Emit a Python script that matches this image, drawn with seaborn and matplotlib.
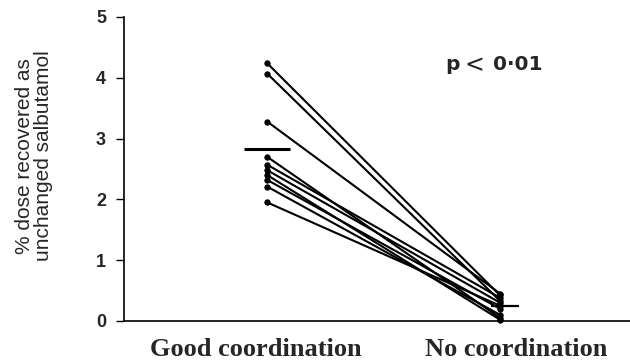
import matplotlib
matplotlib.use("Agg")
import matplotlib.pyplot as plt
import seaborn as sns
import pandas as pd
import numpy as np

categories = ["Good coordination", "No coordination"]
good = [4.24, 4.07, 3.28, 2.70, 2.57, 2.48, 2.40, 2.32, 2.21, 1.95]
none = [0.42, 0.33, 0.45, 0.05, 0.38, 0.30, 0.02, 0.20, 0.10, 0.25]
yticks = [0, 1, 2, 3, 4, 5]

sns.set_theme(style="ticks")
plt.rcParams['font.family'] = ['Liberation Sans', 'DejaVu Sans']

rows = []
for i, (g, n) in enumerate(zip(good, none)):
    rows.append({"subject": i, "group": categories[0], "value": g})
    rows.append({"subject": i, "group": categories[1], "value": n})
df = pd.DataFrame(rows)

fig = plt.figure(figsize=(6.3, 3.61), dpi=100)
ax = fig.add_axes([0.197, 0.111, 0.803, 0.842])

sns.lineplot(data=df, x="group", y="value", units="subject", estimator=None,
             color="black", linewidth=1.5, marker="o", markersize=3.8,
             markeredgecolor="black", ax=ax, legend=False)
for l in ax.lines:
    l.set_clip_on(False)

means = df.groupby("group", sort=False)["value"].mean()
ax.hlines(means.iloc[0], -0.1, 0.1, color="black", linewidth=2.2)
ax.hlines(means.iloc[1], 0.96, 1.08, color="black", linewidth=1.6)

ax.set_xlim(-0.614, 1.558)
ax.set_ylim(0, 5)
ax.set_yticks(yticks)
ax.set_yticklabels([str(t) for t in yticks], fontweight="bold", fontsize=13)
ax.tick_params(axis="y", length=6, width=1, color="black", pad=7)
ax.tick_params(axis="x", length=0, pad=12)
ax.set_xticks([-0.05, 1.07])
ax.set_xticklabels(categories, family="Liberation Serif", fontweight="bold", fontsize=19)
ax.set_xlabel("")
ax.set_ylabel("")
fig.text(34 / 630, 1 - 156 / 361, "% dose recovered as\nunchanged salbutamol",
         rotation=90, ha="center", va="center", multialignment="center",
         fontsize=15, linespacing=0.95)
for s in ["top", "right"]:
    ax.spines[s].set_visible(False)
for s in ["left", "bottom"]:
    ax.spines[s].set_color("black")
    ax.spines[s].set_linewidth(1.2)

# p-value annotation (three pieces to match the wide spacing)
ptxt_y = 1 - 65 / 361
fig.text(445 / 630, ptxt_y, "p", fontsize=14.5, fontweight="bold",
         family="DejaVu Sans", ha="left", va="center")
fig.text(474 / 630, ptxt_y, "<", fontsize=17, fontweight="normal",
         family="DejaVu Sans", ha="center", va="center")
fig.text(542 / 630, ptxt_y, "0\u00b701", fontsize=14.5, fontweight="bold",
         family="DejaVu Sans", ha="right", va="center")

fig.savefig("out.png", dpi=100, facecolor="white")
